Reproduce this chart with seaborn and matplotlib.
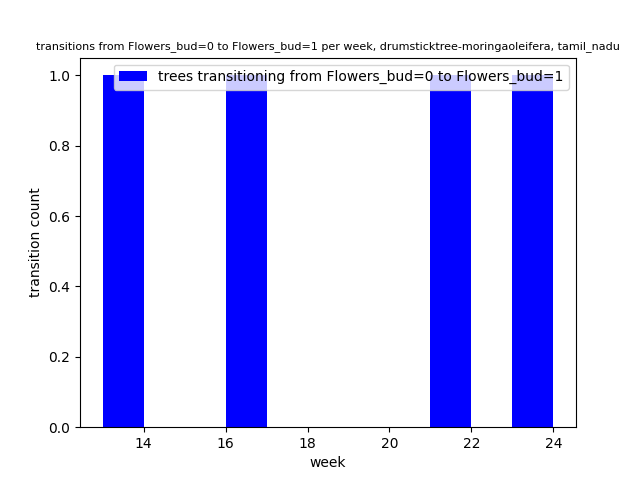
import numpy as np
import pandas as pd
import seaborn as sns
import matplotlib
matplotlib.use("Agg")
import matplotlib.pyplot as plt

# weeks in which a tree went from Flowers_bud=0 to Flowers_bud=1
weeks = [13, 16, 21, 23]
counts = [1, 1, 1, 1]
bin_edges = list(range(13, 25))

df = pd.DataFrame({"week": weeks, "count": counts})

fig, ax = plt.subplots(figsize=(6.4, 4.8), dpi=100)
sns.histplot(data=df, x="week", weights="count", bins=bin_edges, color="blue",
             alpha=1, linewidth=0, edgecolor=None, ax=ax,
             label="trees transitioning from Flowers_bud=0 to Flowers_bud=1")
ax.set_xlabel("week")
ax.set_ylabel("transition count")
ax.set_title("transitions from Flowers_bud=0 to Flowers_bud=1 per week, drumsticktree-moringaoleifera, tamil_nadu",
             fontsize=8)
ax.legend(loc="upper right")
fig.savefig("out.png")
